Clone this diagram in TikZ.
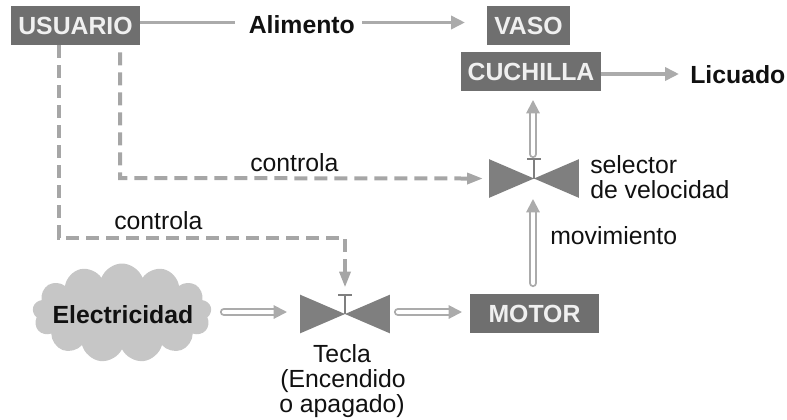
\documentclass[tikz,border=0pt]{standalone}
\usepackage{fontspec}
\setmainfont{Liberation Sans}
\usetikzlibrary{arrows.meta,shapes.symbols,calc}
\newlength\pxu
\setlength{\pxu}{0.75pt}
\definecolor{boxgrey}{HTML}{6F6F6F}
\definecolor{valvegrey}{HTML}{7F7F7F}
\definecolor{linegrey}{HTML}{ABABAB}
\definecolor{dashgrey}{HTML}{A6A6A6}
\definecolor{cloudgrey}{HTML}{C6C6C6}
\definecolor{inkblack}{HTML}{111111}
\tikzset{
  x=0.75pt,y=-0.75pt,
  every node/.style={font=\fontsize{18.6pt}{18.75pt}\selectfont,text=inkblack,inner sep=0pt},
  blockbox/.style={fill=boxgrey,text=white!94!black,font=\fontsize{18.6pt}{18.75pt}\selectfont\bfseries,minimum height=39\pxu,anchor=center},
  plainlabel/.style={anchor=base west},
  boldlabel/.style={anchor=base west,font=\fontsize{18.6pt}{18.75pt}\selectfont\bfseries},
  valve/.style={minimum width=89\pxu,minimum height=38\pxu},
  flowline/.style={draw=linegrey,line width=3.6\pxu},
  flowarrow/.style={flowline,-{Triangle[length=10.5pt,width=9.75pt,fill=linegrey]}},
  hollowarrow/.style={draw=linegrey,line width=2\pxu,double=white,double distance=4.2\pxu,line cap=round,-{Triangle[length=10pt,width=10pt,fill=linegrey]}},
  ctrlline/.style={draw=dashgrey,line width=4\pxu,dash pattern=on 13\pxu off 7\pxu},
  ctrltip/.style={fill=dashgrey},
}
\begin{document}
\begin{tikzpicture}
\useasboundingbox (0,0) rectangle (787,419);
% blocks
\node[blockbox,minimum width=129\pxu] (usuario) at (75.5,25.5) {USUARIO};
\node[blockbox,minimum width=83\pxu] (vaso) at (528.5,25.5) {VASO};
\node[blockbox,minimum width=140\pxu] (cuchilla) at (531,71.5) {CUCHILLA};
\node[blockbox,minimum width=129\pxu] (motor) at (534.5,313.5) {MOTOR};
% cloud
\node[cloud,cloud puffs=13,cloud puff arc=140,aspect=1.9,fill=cloudgrey,minimum width=179\pxu,minimum height=99\pxu] (elec) at (122,313) {};
\node[font=\fontsize{18.6pt}{18.75pt}\selectfont\bfseries,anchor=base] (electxt) at (123,323) {Electricidad};
% labels
\node[boldlabel] (alimento) at (248.5,33) {Alimento};
\node[boldlabel] (licuado) at (690,83) {Licuado};
\node[plainlabel] (ctrla) at (250,171) {controla};
\node[plainlabel] (ctrlb) at (114,229) {controla};
\node[plainlabel] (selA) at (590,173) {selector};
\node[plainlabel] (selB) at (590,198) {de velocidad};
\node[plainlabel] (mov) at (550,244) {movimiento};
\node[anchor=base] (teclaA) at (342,362) {Tecla};
\node[anchor=base] (teclaB) at (343,387) {(Encendido};
\node[anchor=base] (teclaC) at (342,412) {o apagado)};
% valves
\foreach \v/\xx/\yy in {sel/534/178.5,tec/345/314}{
  \node[valve] (\v) at (\xx,\yy) {};
  \fill[valvegrey] (\v.north west) -- (\v.center) -- (\v.south west) -- cycle;
  \fill[valvegrey] (\v.north east) -- (\v.center) -- (\v.south east) -- cycle;
  \draw[valvegrey,line width=1.6\pxu] (\v.center) -- (\v.north);
  \draw[valvegrey,line width=1.8\pxu] ($(\v.north)+(-7,0)$) -- ($(\v.north)+(7,0)$);
}
% connector waypoints
\coordinate (a1) at (235,22.5);
\coordinate (a2) at (362,22.5);
\coordinate (a3) at (465,22.5);
\coordinate (l1) at (679,74);
\coordinate (h1) at (533,154);
\coordinate (h2) at (533,100);
\coordinate (m1) at (533,283);
\coordinate (m2) at (533,199);
\coordinate (e1) at (224,312);
\coordinate (e2) at (287,312);
\coordinate (t1) at (398,312);
\coordinate (t2) at (462,312);
% solid connectors
\draw[flowline] (usuario.east |- a1) -- (a1);
\draw[flowarrow] (a2) -- (a3);
\draw[flowarrow] (cuchilla.east |- l1) -- (l1);
% hollow connectors
\draw[hollowarrow] (h1) -- (h2);
\draw[hollowarrow] (m1) -- (m2);
\draw[hollowarrow] (e1) -- (e2);
\draw[hollowarrow] (t1) -- (t2);
% control connectors
\coordinate (c1) at (59,238);
\coordinate (c2) at (120,178);
\draw[ctrlline] (usuario.south -| c1) -- (c1) -- (c1 -| tec.north) -- ($(tec.north)+(0,-22)$);
\draw[ctrlline] ($(usuario.south -| c2)+(0,7)$) -- (c2) -- ($(sel.west)+(-22,0)$);
\fill[ctrltip] ($(tec.north)+(0,-8)$) -- ++(-6,-15) -- ++(12,0) -- cycle;
\fill[ctrltip] ($(sel.west)+(-7,0)$) -- ++(-15,-6) -- ++(0,12) -- cycle;
\end{tikzpicture}
\end{document}
